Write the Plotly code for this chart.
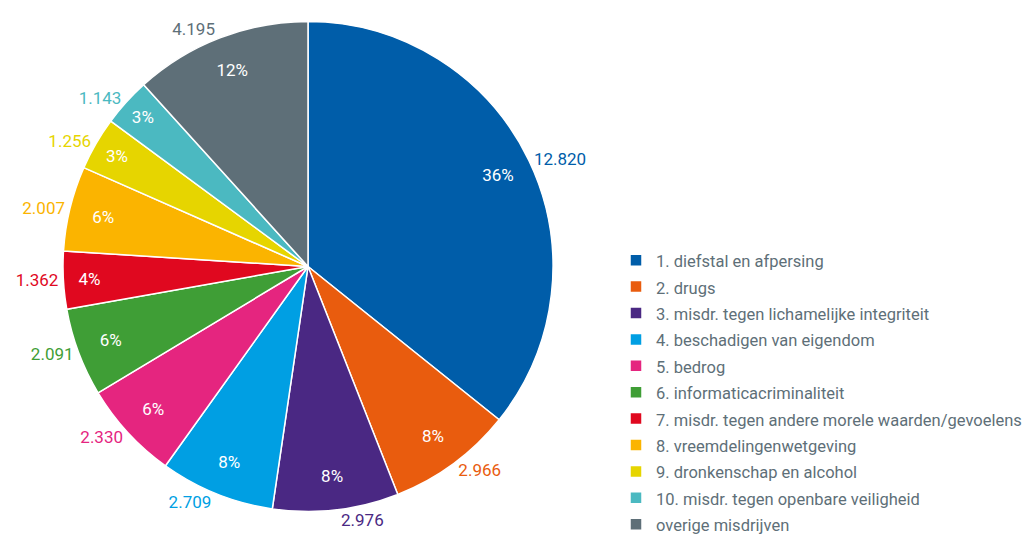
import plotly.graph_objects as go

labels = [
    "1. diefstal en afpersing",
    "2. drugs",
    "3. misdr. tegen lichamelijke integriteit",
    "4. beschadigen van eigendom",
    "5. bedrog",
    "6. informaticacriminaliteit",
    "7. misdr. tegen andere morele waarden/gevoelens",
    "8. vreemdelingenwetgeving",
    "9. dronkenschap en alcohol",
    "10. misdr. tegen openbare veiligheid",
    "overige misdrijven",
]
values = [12820, 2966, 2976, 2709, 2330, 2091, 1362, 2007, 1256, 1143, 4195]
percent_labels = ["36%", "8%", "8%", "8%", "6%", "6%", "4%", "6%", "3%", "3%", "12%"]
colors = ["#005da9", "#e95c0e", "#4a2883", "#009fe3", "#e5257f", "#3f9e36",
          "#e0081f", "#fbb400", "#e6d500", "#4bb9c1", "#5e6f78"]

FONT = "Roboto"
W, H = 1031, 535
dom_x = [55 / W, 545 / W]
dom_y = [1 - 504 / H, 1 - 13 / H]
clear = ["rgba(0,0,0,0)"] * len(values)
legend_labels = ['<span style="font-size:16.5px">%s</span>' % l for l in labels]

fig = go.Figure()
# coloured slices + legend
fig.add_trace(go.Pie(
    labels=legend_labels, values=values, sort=False, direction="clockwise", rotation=0,
    marker=dict(colors=colors, line=dict(color="white", width=1.5)),
    textinfo="none", domain=dict(x=dom_x, y=dom_y), showlegend=True,
    hoverinfo="label+value+percent",
))
# percentages placed in the outer ring
fig.add_trace(go.Pie(
    labels=legend_labels, values=values, sort=False, direction="clockwise", rotation=0,
    hole=0.72, marker=dict(colors=clear, line=dict(width=0)),
    text=percent_labels, texttemplate="%{text}", textposition="inside",
    insidetextorientation="horizontal",
    insidetextfont=dict(family=FONT, size=17, color="white"),
    domain=dict(x=dom_x, y=dom_y), showlegend=False, hoverinfo="skip",
))
# absolute numbers outside
fig.add_trace(go.Pie(
    labels=legend_labels, values=values, sort=False, direction="clockwise", rotation=0,
    marker=dict(colors=clear, line=dict(width=0)),
    texttemplate="%{value:,}", textposition="outside",
    outsidetextfont=dict(family=FONT, size=17, color=colors),
    domain=dict(x=dom_x, y=dom_y), showlegend=False, hoverinfo="skip",
))

fig.update_layout(
    width=W, height=H, separators=",.",
    margin=dict(l=0, r=0, t=0, b=0, autoexpand=False),
    paper_bgcolor="white", plot_bgcolor="white",
    font=dict(family=FONT, color="#5e6f78"),
    legend=dict(x=608 / W, xanchor="left", y=1 - 234 / H, yanchor="top",
                xref="container", yref="container", maxheight=1,
                font=dict(family=FONT, size=18, color="#5e6f78"),
                bgcolor="rgba(0,0,0,0)", itemclick=False),
)
fig.write_html("out.html")
